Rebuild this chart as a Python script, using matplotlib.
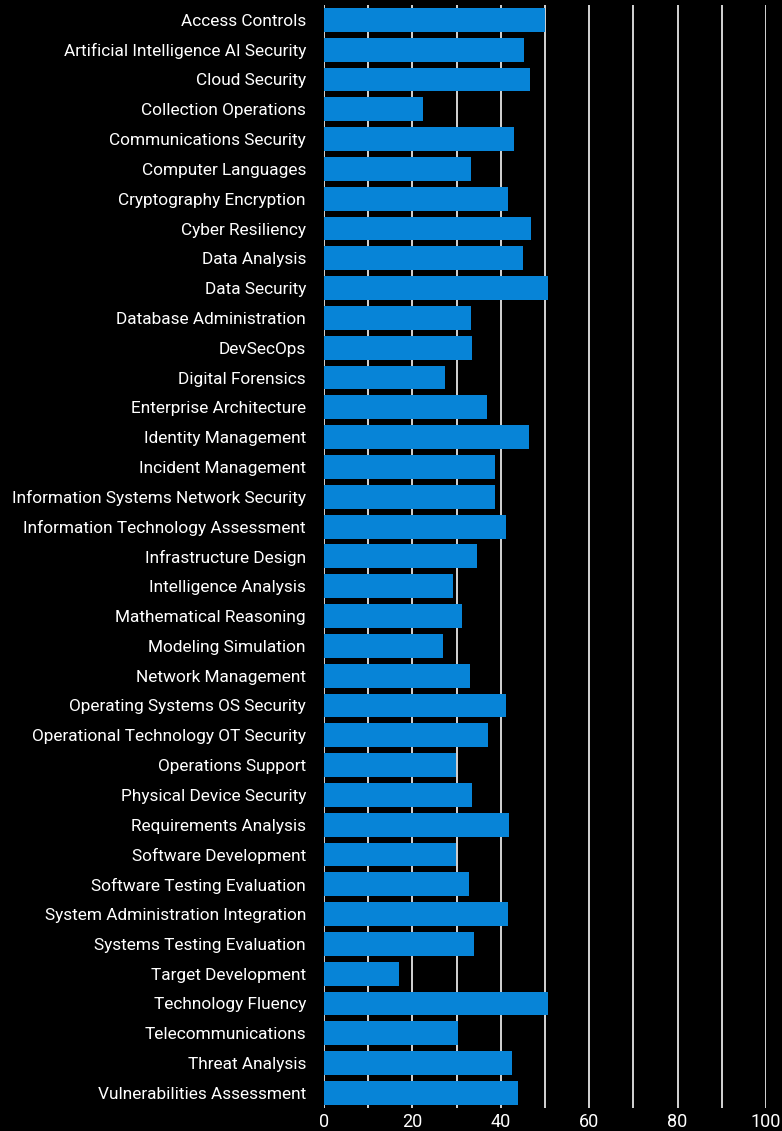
import matplotlib.pyplot as plt

categories = [
    'Access Controls', 'Artificial Intelligence AI Security', 'Cloud Security',
    'Collection Operations', 'Communications Security', 'Computer Languages',
    'Cryptography Encryption', 'Cyber Resiliency', 'Data Analysis', 'Data Security',
    'Database Administration', 'DevSecOps', 'Digital Forensics',
    'Enterprise Architecture', 'Identity Management', 'Incident Management',
    'Information Systems Network Security', 'Information Technology Assessment',
    'Infrastructure Design', 'Intelligence Analysis', 'Mathematical Reasoning',
    'Modeling Simulation', 'Network Management', 'Operating Systems OS Security',
    'Operational Technology OT Security', 'Operations Support',
    'Physical Device Security', 'Requirements Analysis', 'Software Development',
    'Software Testing Evaluation', 'System Administration Integration',
    'Systems Testing Evaluation', 'Target Development', 'Technology Fluency',
    'Telecommunications', 'Threat Analysis', 'Vulnerabilities Assessment',
]
values = [
    50.0, 45.2, 46.6, 22.4, 43.0, 33.3, 41.6, 46.8, 45.0, 50.7,
    33.3, 33.5, 27.4, 36.8, 46.3, 38.7, 38.7, 41.1, 34.6, 29.2,
    31.2, 26.9, 33.0, 41.2, 37.1, 29.9, 33.5, 41.9, 29.9, 32.8,
    41.6, 33.9, 17.0, 50.7, 30.3, 42.6, 44.0,
]
grid_ticks = list(range(0, 101, 10))
tick_labels = [str(t) if t % 20 == 0 else '' for t in grid_ticks]

plt.rcParams['font.family'] = ['Roboto', 'DejaVu Sans']

fig = plt.figure(figsize=(7.82, 11.31), dpi=100, facecolor='black')
ax = fig.add_axes([0.4143, 0.0205, 0.5652, 0.9751], facecolor='black')

ax.barh(range(len(categories)), values, height=0.8, color='#0784d7', zorder=2)

ax.set_xlim(0, 100)
ax.set_ylim(len(categories) - 0.5, -0.5)
ax.set_xticks(grid_ticks)
ax.set_xticklabels(tick_labels)
ax.set_yticks(range(len(categories)))
ax.set_yticklabels(categories)
ax.tick_params(axis='both', length=0, colors='white')
ax.tick_params(axis='y', pad=13, labelsize=12.4)
ax.tick_params(axis='x', pad=4, labelsize=13)
ax.grid(axis='x', color='#d4d4d4', linewidth=1.4, zorder=0)
for s in ax.spines.values():
    s.set_visible(False)

fig.savefig('out.png', facecolor='black')
